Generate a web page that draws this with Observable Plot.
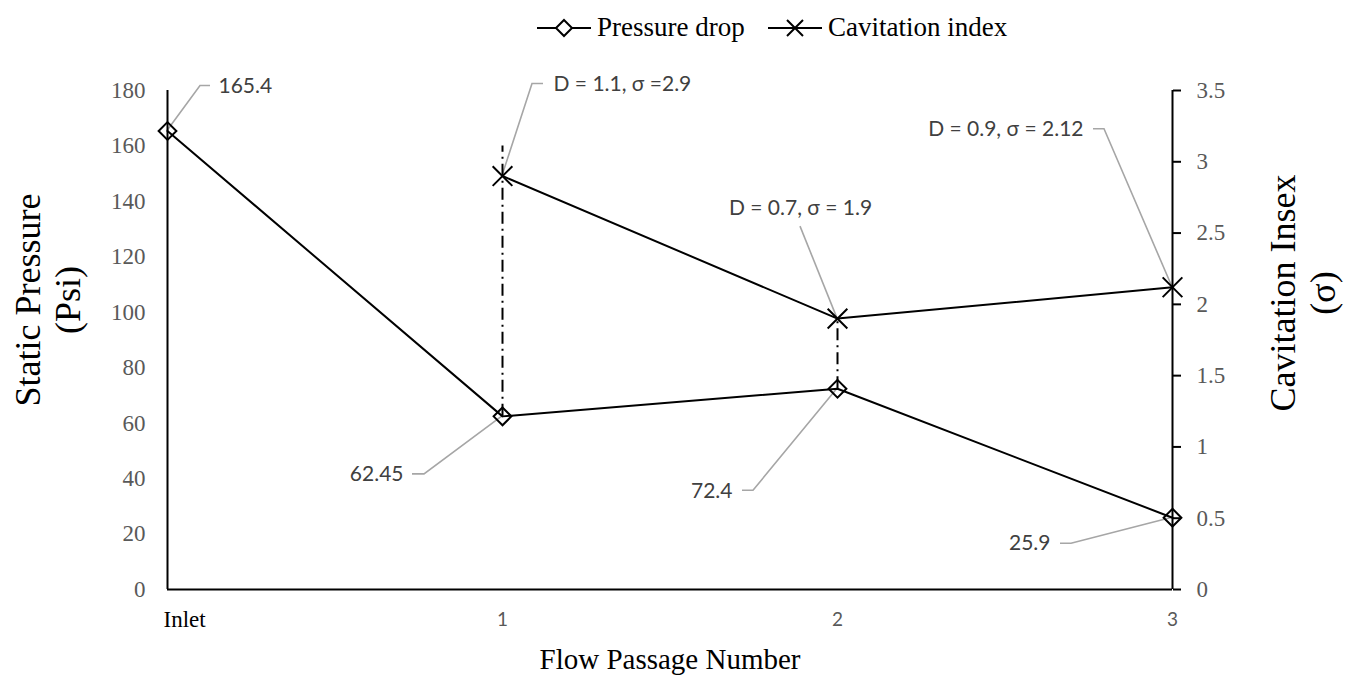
<!DOCTYPE html>
<html>
<head>
<meta charset="utf-8">
<script src="https://cdn.jsdelivr.net/npm/d3@7"></script>
<script src="https://cdn.jsdelivr.net/npm/@observablehq/plot@0.6"></script>
<style>
  html, body { margin: 0; padding: 0; background: #fff; }
  #legend { position: relative; height: 55px; width: 1353px; font-family: "Liberation Serif", serif; font-size: 27px; color: #000; }
  .item { position: absolute; top: 12px; display: flex; align-items: center; white-space: nowrap; }
  .item svg { margin-right: 6px; }
</style>
</head>
<body>
<div id="legend"></div>
<div id="chart"></div>
<script>
// ---- data ----
const categories = ["Inlet", "1", "2", "3"];
const categoryIndex = [0, 1, 2, 3];
const pressure = [165.4, 62.45, 72.4, 25.9];          // Static pressure (Psi)
const cavitationIndex = [1, 2, 3];                     // passages with cavitation data
const cavitation = [2.9, 1.9, 2.12];                   // Cavitation index (sigma)
const leftTicks = [0, 20, 40, 60, 80, 100, 120, 140, 160, 180];
const rightTicks = [0, 0.5, 1, 1.5, 2, 2.5, 3, 3.5];
const seriesNames = ["Pressure drop", "Cavitation index"];
// dash-dot connector lines (passage, from psi, to psi)
const dropX = [1, 2];
const dropFrom = [62.45, 72.4];
const dropTo = [160, 1.9 * 180 / 3.5];
// annotation labels
const annText = ["165.4", "D = 1.1, \u03c3 =2.9", "D = 0.7, \u03c3 = 1.9", "D = 0.9, \u03c3 = 2.12", "62.45", "72.4", "25.9"];
const annSeries = ["p", "c", "c", "c", "p", "p", "p"];
const annIndex = [0, 1, 2, 3, 1, 2, 3];
// label styling / placement (pixel offsets from the data point)
const annLeader = [
  [[33, -45], [43, -45]],
  [[30, -92], [41, -92]],
  [[-37, -92]],
  [[-68, -158], [-79, -158]],
  [[-78, 58], [-90, 58]],
  [[-84, 102], [-95, 102]],
  [[-101, 26], [-112, 26]]
];
const annLabel = [[51, -45], [51, -92], [-37, -110], [-89, -158], [-99, 58], [-105, 102], [-122, 26]];
const annAnchor = ["start", "start", "middle", "end", "end", "end", "end"];

const k = 180 / 3.5; // sigma -> psi mapping for the secondary axis
const pData = categoryIndex.map((x, i) => ({x, y: pressure[i]}));
const cData = cavitationIndex.map((x, i) => ({x, y: cavitation[i] * k}));
const dropData = dropX.map((x, i) => ({x, y1: dropFrom[i], y2: dropTo[i]}));
const annPoint = annText.map((t, i) => {
  const x = annIndex[i];
  const y = annSeries[i] === "p" ? pressure[categoryIndex.indexOf(x)] : cavitation[cavitationIndex.indexOf(x)] * k;
  return {x, y};
});

const serif = "Liberation Serif";
const sans = "Lato";
const fmt = d3.format("~g");

const chart = Plot.plot({
  width: 1353,
  height: 622,
  marginLeft: 167,
  marginRight: 181,
  marginTop: 35,
  marginBottom: 88,
  x: {domain: [0, 3], axis: null},
  y: {domain: [0, 180], axis: null},
  style: {background: "white", overflow: "visible", fontFamily: serif},
  marks: [
    // axis lines
    Plot.ruleX([0, 3], {y1: 0, y2: 180, stroke: "black", strokeWidth: 2}),
    Plot.ruleY([0], {x1: 0, x2: 3, stroke: "black", strokeWidth: 2}),
    // left axis
    Plot.axisY(leftTicks, {anchor: "left", tickSize: 0, tickPadding: 22, fontSize: 23, fill: "#595959", label: null}),
    // right axis (sigma)
    Plot.axisY(rightTicks.map(d => d * k), {anchor: "right", tickSize: 8, tickPadding: 16, strokeWidth: 2, stroke: "black", fontSize: 23, fill: "#595959", label: null, tickFormat: d => fmt(+(d / k).toFixed(2))}),
    // x tick labels
    Plot.text([0], {x: d => d, y: 0, text: d => categories[d], dy: 30, dx: -4, textAnchor: "start", fontSize: 23, fontFamily: serif, fill: "black"}),
    Plot.text([1, 2, 3], {x: d => d, y: 0, text: d => categories[d], dy: 30, fontSize: 19, fontFamily: sans, fill: "#595959"}),
    // axis titles
    Plot.text(["Flow Passage Number"], {frameAnchor: "bottom", dy: 79, fontSize: 29, fontFamily: serif, fill: "black"}),
    Plot.text(["Static Pressure\n(Psi)"], {frameAnchor: "left", textAnchor: "middle", rotate: -90, dx: -120, dy: -40, fontSize: 36, lineHeight: 1.1, fontFamily: serif, fill: "black"}),
    Plot.text(["Cavitation Insex\n(\u03c3)"], {frameAnchor: "right", textAnchor: "middle", rotate: -90, dx: 130, dy: -47, fontSize: 36, lineHeight: 1.1, fontFamily: serif, fill: "black"}),
    // dash-dot connectors
    Plot.ruleX(dropData, {x: "x", y1: "y1", y2: "y2", stroke: "black", strokeWidth: 2, strokeDasharray: "12,5,2,5"}),
    // series
    Plot.line(pData, {x: "x", y: "y", stroke: "black", strokeWidth: 2}),
    Plot.line(cData, {x: "x", y: "y", stroke: "black", strokeWidth: 2}),
    Plot.dot(pData, {x: "x", y: "y", symbol: "diamond2", r: 8, stroke: "black", strokeWidth: 2, fill: "none"}),
    Plot.dot(cData, {x: "x", y: "y", symbol: "times", r: 9, stroke: "black", strokeWidth: 2}),
    // annotation labels
    ...annText.map((t, i) => Plot.text([annPoint[i]], {x: "x", y: "y", text: () => t, dx: annLabel[i][0], dy: annLabel[i][1], textAnchor: annAnchor[i], fontSize: 21, fontFamily: sans, fill: "#404040"}))
  ]
});

// leader lines through the chart's own scales
const sx = chart.scale("x"), sy = chart.scale("y");
const svg = d3.select(chart);
const g = svg.insert("g", ":nth-child(2)").attr("fill", "none").attr("stroke", "#a6a6a6").attr("stroke-width", 1.6);
annPoint.forEach((p, i) => {
  const px = sx.apply(p.x), py = sy.apply(p.y);
  const pts = [[px, py], ...annLeader[i].map(([dx, dy]) => [px + dx, py + dy])];
  g.append("path").attr("d", d3.line()(pts));
});
document.getElementById("chart").appendChild(chart);

// legend
const legend = document.getElementById("legend");
const legendX = [537, 768];
seriesNames.forEach((name, i) => {
  const item = document.createElement("div");
  item.className = "item";
  item.style.left = legendX[i] + "px";
  const sym = i === 0
    ? '<path d="M27,2 L35,10 L27,18 L19,10 Z" fill="white" stroke="black" stroke-width="2"/>'
    : '<path d="M19,2 L35,18 M35,2 L19,18" stroke="black" stroke-width="2"/>';
  item.innerHTML = '<svg width="54" height="20"><line x1="0" y1="10" x2="54" y2="10" stroke="black" stroke-width="2"/>' + sym + '</svg><span>' + name + '</span>';
  legend.appendChild(item);
});
</script>
</body>
</html>
